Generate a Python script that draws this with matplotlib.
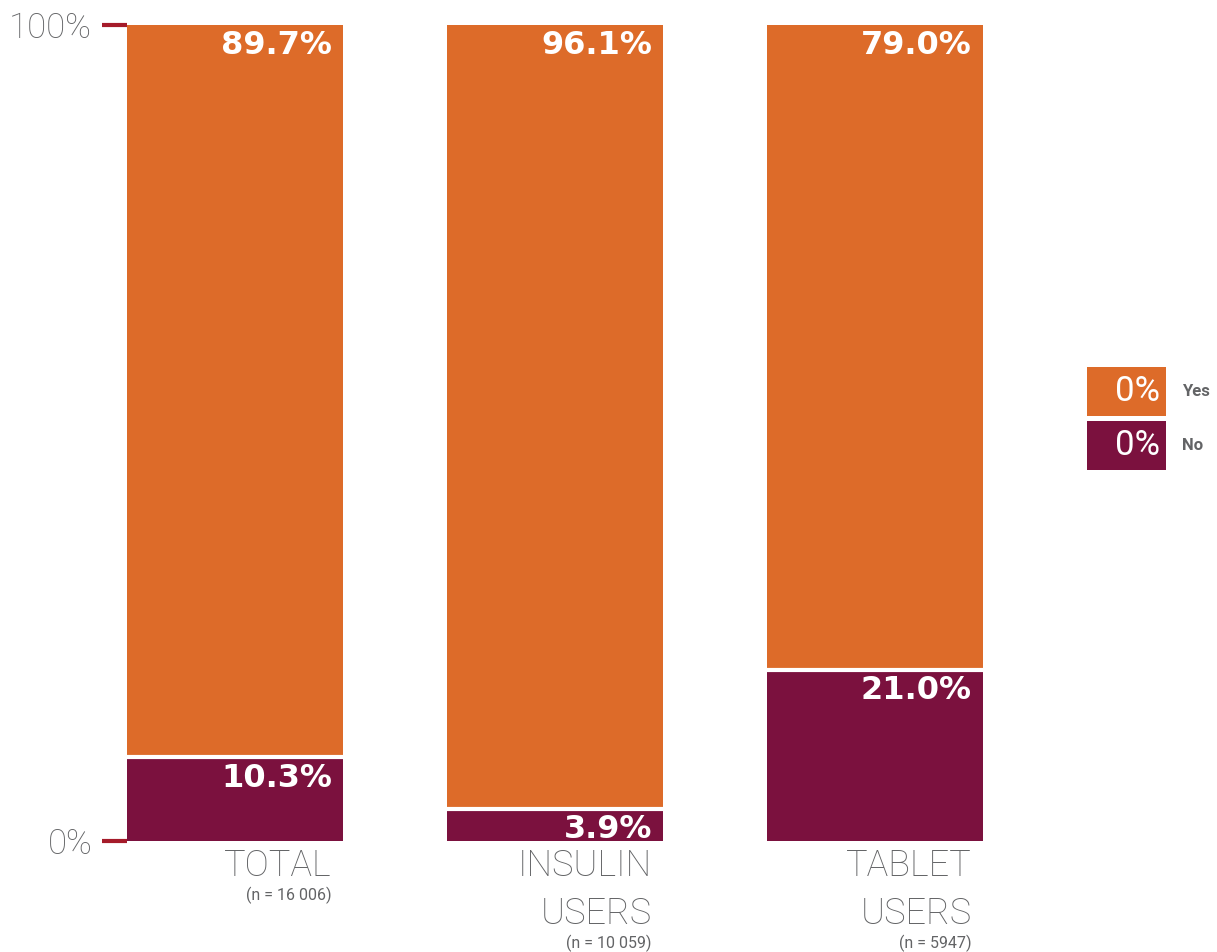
import matplotlib
matplotlib.use('Agg')
import matplotlib.pyplot as plt
from matplotlib.patches import Rectangle

# Data
categories = ['TOTAL', 'INSULIN\nUSERS', 'TABLET\nUSERS']
n_labels = ['(n = 16 006)', '(n = 10 059)', '(n = 5947)']
yes_vals = [89.7, 96.1, 79.0]
no_vals = [10.3, 3.9, 21.0]
series_names = ['Yes', 'No']

ORANGE = '#DD6B29'
PURPLE = '#7B113E'
RED = '#A51B2A'
GRAY = '#636466'

plt.rcParams['font.family'] = ['Roboto', 'DejaVu Sans']

W, H = 1217, 952
fig = plt.figure(figsize=(W / 100, H / 100), dpi=100)


def px_rect(x0, y0, x1, y1):
    """Figure fraction rect from pixel box (top-left origin)."""
    return [x0 / W, 1 - y1 / H, (x1 - x0) / W, (y1 - y0) / H]


ax = fig.add_axes(px_rect(127, 25, 983, 841))
width = 0.675
x = list(range(len(categories)))

ax.bar(x, no_vals, width=width, color=PURPLE, linewidth=0)
ax.bar(x, yes_vals, width=width, bottom=no_vals, color=ORANGE, linewidth=0)
# white separator between the two segments
ax.hlines(no_vals, [i - width / 2 for i in x], [i + width / 2 for i in x],
          color='white', linewidth=3)

ax.set_xlim(-width / 2, len(x) - 1 + width / 2)
ax.set_ylim(0, 100)
for s in ax.spines.values():
    s.set_visible(False)
ax.set_xticks([])
ax.set_yticks([0, 100])
ax.set_yticklabels(['0%', '100%'])
ax.tick_params(axis='y', length=18, width=3, color=RED, pad=7,
               labelsize=25, labelcolor=GRAY)
for lab in ax.get_yticklabels():
    lab.set_fontweight('light')

# value labels at top of each segment
val_font = dict(color='white', fontsize=23, fontweight='bold',
                family='DejaVu Sans', ha='right')
for i in x:
    top = no_vals[i] + yes_vals[i]
    ax.annotate(f'{yes_vals[i]:.1f}%', xy=(i + width / 2, top),
                xytext=(-8, -3.5), textcoords='offset points',
                va='top', **val_font)
    if no_vals[i] < 6:
        # segment too thin: sit the label on the bar bottom
        ax.annotate(f'{no_vals[i]:.1f}%', xy=(i + width / 2, 0),
                    xytext=(-8, 2.5), textcoords='offset points',
                    va='baseline', **val_font)
    else:
        ax.annotate(f'{no_vals[i]:.1f}%', xy=(i + width / 2, no_vals[i]),
                    xytext=(-8, -4), textcoords='offset points',
                    va='top', **val_font)

# category labels with sample sizes
for i in x:
    lab = ax.annotate(categories[i], xy=(i + width / 2, 0),
                      xytext=(-8, -5), textcoords='offset points',
                      ha='right', va='top', color=GRAY,
                      fontsize=26, fontweight='light', linespacing=1.42,
                      annotation_clip=False)
    ax.annotate(n_labels[i], xy=(1, 0), xycoords=lab,
                xytext=(0, -2), textcoords='offset points',
                ha='right', va='top', color=GRAY, fontsize=11.5)

# legend boxes
boxes = [(367, 416), (421, 470)]
colors = [ORANGE, PURPLE]
for (y0, y1), c, name in zip(boxes, colors, series_names):
    r = px_rect(1087, y0, 1166, y1)
    fig.add_artist(Rectangle((r[0], r[1]), r[2], r[3],
                             transform=fig.transFigure, color=c, lw=0))
    yc = 1 - (y0 + y1) / 2 / H
    fig.text(1160 / W, yc, '0%', color='white', fontsize=25,
             ha='right', va='center')
    fig.text(1182 / W, yc, name, color=GRAY, fontsize=12,
             fontweight='bold', ha='left', va='center')

fig.savefig('out.png', dpi=100)
